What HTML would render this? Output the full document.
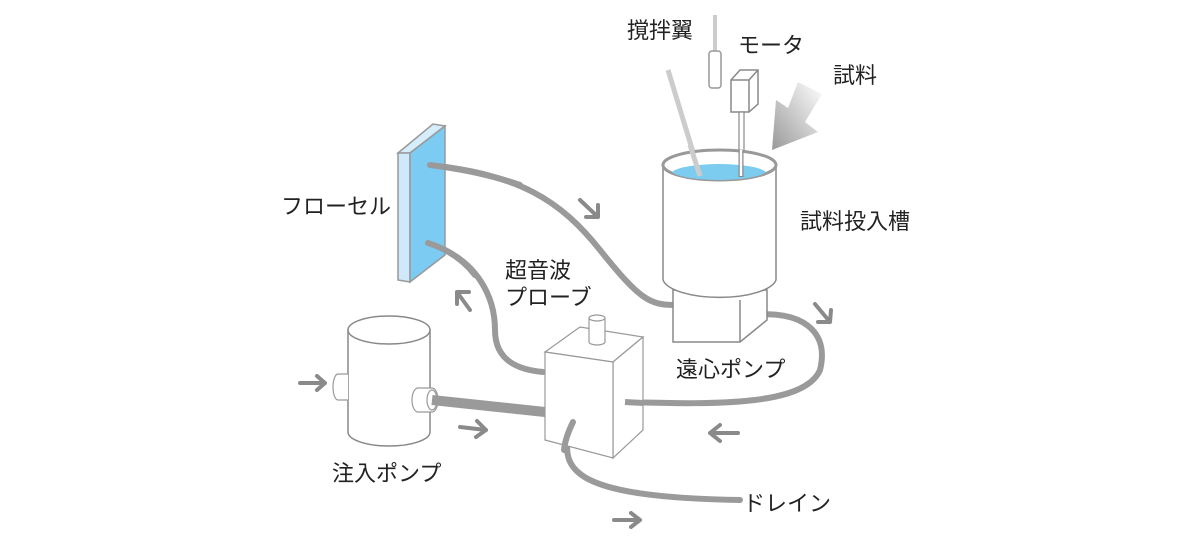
<!DOCTYPE html>
<html><head><meta charset="utf-8"><style>
html,body{margin:0;padding:0;background:#fff;}
svg{display:block;}
text{font-family:"Liberation Sans","Noto Sans CJK JP",sans-serif;font-size:22px;fill:#222;}
</style></head><body>
<svg width="1200" height="553" viewBox="0 0 1200 553" xmlns="http://www.w3.org/2000/svg">
<defs>
<linearGradient id="g" x1="1" y1="0" x2="0" y2="1">
<stop offset="0" stop-color="#fff"/><stop offset="1" stop-color="#999"/>
</linearGradient>
</defs>
<g fill="none" stroke="#9a9a9a" stroke-width="6" stroke-linecap="round">
<path d="M430,165 C520,175 560,200 600,250 S650,305 675,305"/>
<path d="M428,243 C480,260 495,300 495,330 C495,362 520,370 543,372"/>
<path d="M752,315 C800,310 830,330 820,370 C805,405 720,405 625,402"/>
<path d="M573,422 C555,470 570,497 740,500"/>
</g>
<g fill="none" stroke="#8a8a8a" stroke-width="4" stroke-linecap="round" stroke-linejoin="round">
<path d="M580,200 L598,217 M598,205 L598,217 L586,217"/>
<path d="M470,310 L457,292 M457,304 L457,292 L469,292"/>
<path d="M815,304 L830,322 M831,310 L830,322 L818,322"/>
<path d="M738,433 L710,433 M720,425 L710,433 L720,441"/>
<path d="M460,427 L486,430 M477,421 L486,430 L476,437"/>
<path d="M300,383 L325,383 M317,376 L325,383 L317,390"/>
<path d="M614,520 L640,520 M631,513 L640,520 L631,527"/>
</g>
<polygon points="822,94 798,82 788,108 776,100 772,150 818,132 805,122" fill="url(#g)"/>
<line x1="668" y1="70" x2="700" y2="175" stroke="#ccc" stroke-width="5"/>
<line x1="715" y1="15" x2="715" y2="52" stroke="#ccc" stroke-width="4"/>
<rect x="709" y="51" width="12" height="37" rx="3" fill="#fff" stroke="#999" stroke-width="1.5"/>
<polygon points="731,80 740,70 758,70 758,104 749,112 731,112" fill="#fff" stroke="#888" stroke-width="1.5"/>
<polyline points="731,80 749,80 758,70" fill="none" stroke="#888" stroke-width="1.5"/>
<line x1="749" y1="80" x2="749" y2="112" stroke="#888" stroke-width="1.5"/>
<rect x="739" y="112" width="5" height="64" fill="#fff" stroke="#888" stroke-width="1.2"/>
<polygon points="673,290 740,290 767,290 767,320 740,342 673,342" fill="#fff" stroke="#888" stroke-width="1.5"/>
<line x1="740" y1="300" x2="740" y2="342" stroke="#888" stroke-width="1.5"/>
<path d="M663,165 L663,280 A57,20 0 0 0 776,280 L776,165" fill="#fff" stroke="#888" stroke-width="1.5"/>
<ellipse cx="719.5" cy="165" rx="56.5" ry="15" fill="#fff" stroke="#999" stroke-width="3"/>
<path d="M672,172 A48,10 0 0 1 766,172 A48,10 0 0 1 672,172 Z" fill="#7cccef"/>
<line x1="741" y1="150" x2="741" y2="177" stroke="#888" stroke-width="5"/>
<line x1="741" y1="150" x2="741" y2="176" stroke="#fff" stroke-width="2.5"/>
<line x1="690" y1="145" x2="700" y2="176" stroke="#ccc" stroke-width="5"/>
<polygon points="398,153 433,124 445,126 410,153" fill="#d6edfb" stroke="#999" stroke-width="1.5"/>
<polygon points="398,153 410,153 410,282 398,280" fill="#cfe9fa" stroke="#999" stroke-width="1.5"/>
<polygon points="410,153 445,126 445,255 410,282" fill="#7ccbf3" stroke="#999" stroke-width="1.5"/>
<path d="M430,165 C470,170 500,178 520,185" stroke="#9a9a9a" stroke-width="6" fill="none" stroke-linecap="round"/>
<path d="M428,243 C450,250 465,262 475,275" stroke="#9a9a9a" stroke-width="6" fill="none" stroke-linecap="round"/>
<polygon points="545,352 580,327 643,337 613,362" fill="#fff" stroke="#999" stroke-width="1.2"/>
<polygon points="613,362 643,337 643,430 613,458" fill="#fff" stroke="#999" stroke-width="1.2"/>
<polygon points="545,352 613,362 613,458 545,440" fill="#fff" stroke="#999" stroke-width="1.2"/>
<path d="M589,318 L589,342 A8,3 0 0 0 605,342 L605,318" fill="#fff" stroke="#999" stroke-width="1.2"/>
<ellipse cx="597" cy="318" rx="8" ry="3" fill="#fff" stroke="#999" stroke-width="1.2"/>
<path d="M573,422 C568,432 565,440 564,450" stroke="#9a9a9a" stroke-width="6" fill="none" stroke-linecap="round"/>
<path d="M625,402 L643,403" stroke="#9a9a9a" stroke-width="6" fill="none"/>
<path d="M348,330 L348,432 A41,14 0 0 0 430,432 L430,330" fill="#fff" stroke="#888" stroke-width="1.5"/>
<ellipse cx="389" cy="330" rx="41" ry="14" fill="#fff" stroke="#888" stroke-width="1.5"/>
<path d="M348,374 L338,374 A5,13 0 0 0 338,400 L348,400" fill="#fff" stroke="#999" stroke-width="1.2"/>
<path d="M418,388 L432,388 A6,12 0 0 1 432,412 L418,412 A6,12 0 0 1 418,388 Z" fill="#fff" stroke="#999" stroke-width="1.2"/>
<ellipse cx="432" cy="400" rx="5" ry="10" fill="#fff" stroke="#999" stroke-width="1.2"/>
<path d="M432,400 L545,412" stroke="#9a9a9a" stroke-width="10" fill="none"/>
<text x="627" y="38">撹拌翼</text>
<text x="738" y="53">モータ</text>
<text x="833" y="83">試料</text>
<text x="800" y="229">試料投入槽</text>
<text x="281" y="214">フローセル</text>
<text x="505" y="278">超音波</text>
<text x="505" y="305">プローブ</text>
<text x="676" y="377">遠心ポンプ</text>
<text x="332" y="481">注入ポンプ</text>
<text x="743" y="511">ドレイン</text>
</svg>
</body></html>
